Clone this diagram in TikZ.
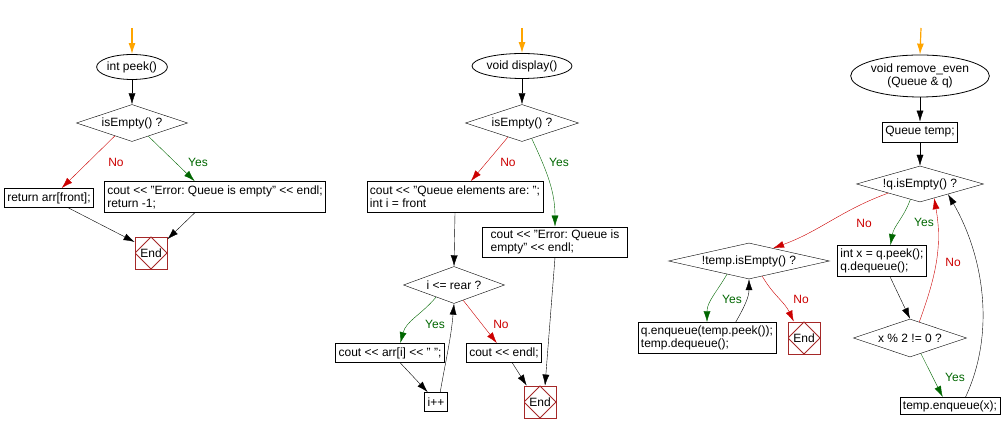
\documentclass[tikz,border=0pt]{standalone}
\usepackage{fontspec}
\setmainfont{Liberation Sans}
\usetikzlibrary{shapes.geometric}
\usetikzlibrary{arrows.meta}
\definecolor{nored}{RGB}{204,0,0}
\definecolor{yesgreen}{RGB}{0,102,0}
\definecolor{startorange}{RGB}{255,165,0}
\definecolor{endred}{RGB}{165,40,40}
\frenchspacing

\tikzset{
  every node/.style={font=\fontsize{12}{13}\selectfont},
  startnode/.style={ellipse, draw, thick, inner sep=0pt, align=center},
  decision/.style={diamond, draw, inner sep=0pt, aspect=3.5},
  stepbox/.style={rectangle, draw, thick, inner sep=3pt, align=left, minimum height=19pt},
  endnode/.style={rectangle, draw=endred, thick, minimum size=32pt, inner sep=0pt,
    path picture={\draw[endred] (path picture bounding box.north)
      -- (path picture bounding box.east) -- (path picture bounding box.south)
      -- (path picture bounding box.west) -- cycle;}},
  flow/.style={-{Latex[length=11pt,width=7pt]}},
  entry/.style={flow, startorange, line width=1.2pt},
  noflow/.style={flow, nored},
  yesflow/.style={flow, yesgreen},
  nolabel/.style={text=nored},
  yeslabel/.style={text=yesgreen}
}

\begin{document}
\begin{tikzpicture}[x=1pt, y=1pt]
\useasboundingbox (0,0) rectangle (1005,433);

%---------------------------------------
% int peek()
%---------------------------------------
\coordinate (start1) at (132,405);
\node[startnode, minimum width=67pt, minimum height=25pt] (peek) at (132,366) {int peek()};
\node[decision, minimum width=111pt, minimum height=37pt] (emp1) at (132,310) {isEmpty() ?};
\node[stepbox] (ret1) at (49,235) {return arr[front];};
\node[stepbox, minimum height=31pt] (err1) at (215,236) {cout <{}< "Error: Queue is empty" <{}< endl;\\return -1;};
\node[endnode] (end1) at (151,180) {End};

\draw[entry] (start1) -- (peek.north);
\draw[flow] (peek.south) -- (emp1.north);
\draw[noflow] (emp1.-143) -- (ret1.38);
\draw[yesflow] (emp1.-39) -- (err1.142);
\draw[flow] (ret1.-27) -- (end1.146);
\draw[flow] (err1.-142) -- (end1.40);

\node[nolabel] (no1) at (116,271) {No};
\node[yeslabel] (yes1) at (198,271) {Yes};

%---------------------------------------
% void display()
%---------------------------------------
\coordinate (start2) at (522,405);
\node[startnode, minimum width=89pt, minimum height=25pt] (disp) at (522,367) {void display()};
\node[decision, minimum width=113pt, minimum height=37pt] (emp2) at (522,310) {isEmpty() ?};
\node[stepbox, minimum height=31pt] (qbox) at (455,236) {cout <{}< "Queue elements are: ";\\int i = front};
\node[stepbox, minimum height=29pt, minimum width=145pt] (err2) at (555,191) {cout <{}< "Error: Queue is\\empty" <{}< endl;};
\node[decision, minimum width=101pt, minimum height=37pt] (rear) at (454,148) {i <= rear ?};
\node[stepbox] (arrbox) at (390,80) {cout <{}< arr[i] <{}< " ";};
\node[stepbox] (endlbox) at (504,80) {cout <{}< endl;};
\node[stepbox] (inc) at (436,31) {i++};
\node[endnode] (end2) at (540,31) {End};

\draw[entry] (start2) -- (disp.north);
\draw[flow] (disp.south) -- (emp2.north);
\draw[noflow] (emp2.-135) -- (qbox.45);
\draw[yesflow] (emp2.-58) to[out=-65, in=90] (err2.north);
\draw[flow] (qbox.south) -- (rear.north);
\draw[yesflow] (rear.-146) to[out=-130, in=75] (arrbox.44);
\draw[noflow] (rear.-59) -- (endlbox.126);
\draw[flow] (arrbox.-44) -- (inc.130);
\draw[flow] (inc.67) to[out=80, in=-95] (rear.south);
\draw[flow] (endlbox.-50) -- (end2.129);
\draw[flow] (err2.south) -- (end2.73);

\node[nolabel] (no2) at (508,271) {No};
\node[yeslabel] (yes2) at (559,271) {Yes};
\node[yeslabel] (yes3) at (435,109) {Yes};
\node[nolabel] (no3) at (501,109) {No};

%---------------------------------------
% void remove_even(Queue & q)
%---------------------------------------
\coordinate (start3) at (921,405);
\node[startnode, minimum width=121pt, minimum height=42pt] (rem) at (920,357) {void remove\_even\\(Queue \& q)};
\node[stepbox, minimum height=20pt] (tmp) at (920,301) {Queue temp;};
\node[decision, minimum width=127pt, minimum height=36pt] (qemp) at (920,249) {!q.isEmpty() ?};
\node[decision, aspect=4.5, minimum width=161pt, minimum height=36pt] (tempd) at (749,172) {!temp.isEmpty() ?};
\node[stepbox, minimum height=31pt] (peekbox) at (882,172) {int x = q.peek();\\q.dequeue();};
\node[stepbox, minimum height=31pt] (qenq) at (707,95) {q.enqueue(temp.peek());\\temp.dequeue();};
\node[endnode] (end3) at (804,95) {End};
\node[decision, minimum width=113pt, minimum height=38pt] (mod) at (910,95) {x \% 2 != 0 ?};
\node[stepbox, minimum height=17pt] (tenq) at (950,27) {temp.enqueue(x);};

\draw[entry] (start3) -- (rem.north);
\draw[flow] (rem.south) -- (tmp.north);
\draw[flow] (tmp.south) -- (qemp.north);
\draw[noflow] (qemp.-164) to[out=-160, in=20] (tempd.28);
\draw[yesflow] (qemp.-122) to[out=-110, in=80] (peekbox.62);
\draw[yesflow] (tempd.-149) to[out=-120, in=90] (qenq.north);
\draw[noflow] (tempd.-49) to[out=-60, in=115] (end3.122);
\draw[flow] (qenq.29) to[out=60, in=-90] (tempd.south);
\draw[flow] (peekbox.-63) -- (mod.north);
\draw[noflow] (mod.60) to[out=70, in=-80] (qemp.-45);
\draw[yesflow] (mod.-55) -- (tenq.129);
\draw[flow] (tenq.30) to[out=65, in=-60, looseness=0.9] (qemp.-20);

\node[nolabel] (no4) at (864,210) {No};
\node[yeslabel] (yes4) at (924,211) {Yes};
\node[yeslabel] (yes5) at (732,134) {Yes};
\node[nolabel] (no5) at (801,134) {No};
\node[nolabel] (no6) at (953,171) {No};
\node[yeslabel] (yes6) at (955,56) {Yes};

\end{tikzpicture}
\end{document}
